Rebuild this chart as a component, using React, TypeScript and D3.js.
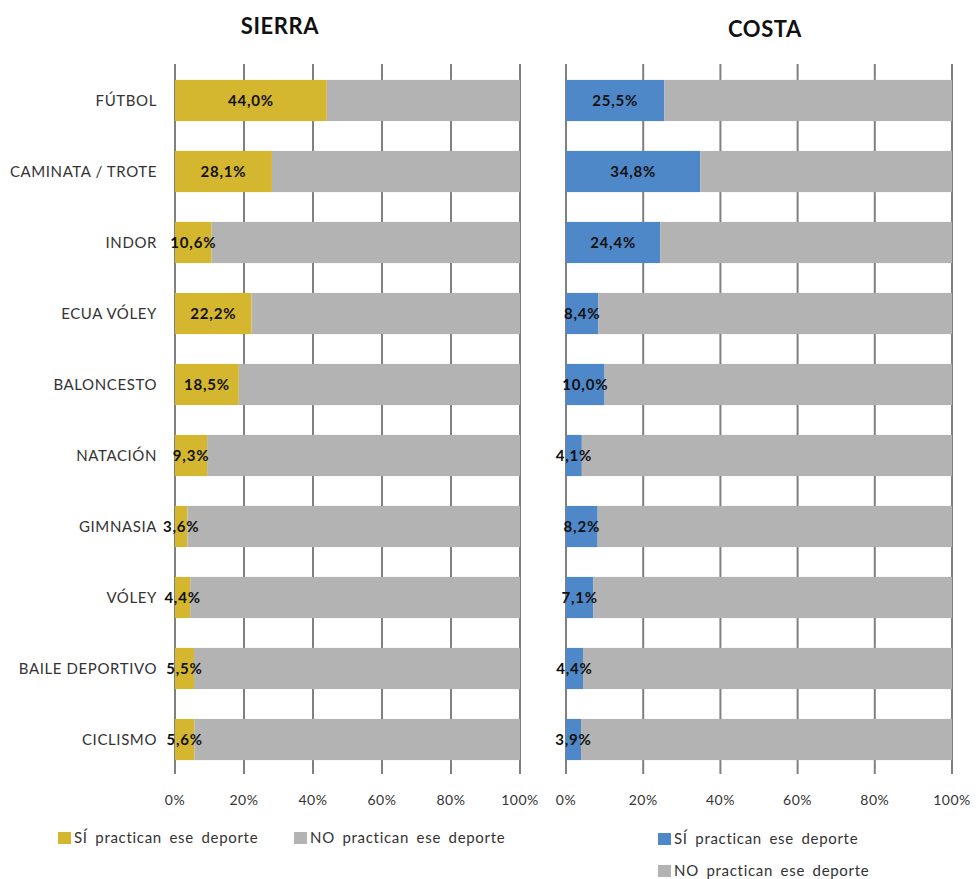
import React from "react";
import * as d3 from "d3";

const categories = [
  "FÚTBOL",
  "CAMINATA / TROTE",
  "INDOR",
  "ECUA VÓLEY",
  "BALONCESTO",
  "NATACIÓN",
  "GIMNASIA",
  "VÓLEY",
  "BAILE DEPORTIVO",
  "CICLISMO",
];
const sierraValues = [44.0, 28.1, 10.6, 22.2, 18.5, 9.3, 3.6, 4.4, 5.5, 5.6];
const costaValues = [25.5, 34.8, 24.4, 8.4, 10.0, 4.1, 8.2, 7.1, 4.4, 3.9];
const ticks = [0, 20, 40, 60, 80, 100];

const W = 977;
const H = 879;
const FONT = "Lato, 'Open Sans', sans-serif";
const GRAY = "#b3b3b3";
const GRID = "#808080";
const TEXT = "#333";

const fmt = (v: number) => v.toFixed(1).replace(".", ",") + "%";

const y = d3.scaleBand().domain(categories).range([65, 775]).paddingInner(0.42).paddingOuter(0.21);

function Panel({ title, values, color, x0, x1, titleX, titleY, showCats }) {
  const x = d3.scaleLinear().domain([0, 100]).range([x0, x1]);
  return (
    <g>
      <text x={titleX} y={titleY} textAnchor="middle" fontSize={22} fontWeight="bold" fill="#111" letterSpacing={0.6}>
        {title}
      </text>
      {ticks.map((t) => (
        <g key={t}>
          <line x1={x(t)} x2={x(t)} y1={64} y2={774} stroke={GRID} strokeWidth={2} />
          <text x={x(t)} y={805} textAnchor="middle" fontSize={14} fill={TEXT} letterSpacing={0.5}>
            {t}%
          </text>
        </g>
      ))}
      {categories.map((c, i) => {
        const v = values[i];
        const yy = y(c) as number;
        return (
          <g key={c}>
            <rect x={x(0)} y={yy} width={x(v) - x(0)} height={y.bandwidth()} fill={color} />
            <rect x={x(v)} y={yy} width={x(100) - x(v)} height={y.bandwidth()} fill={GRAY} />
            <text
              x={(x(0) + x(v)) / 2}
              y={yy + y.bandwidth() / 2}
              dy="0.35em"
              textAnchor="middle"
              fontSize={15}
              fontWeight="bold"
              letterSpacing={0.8}
              fill="#111"
            >
              {fmt(v)}
            </text>
            {showCats && (
              <text
                x={x0 - 18}
                y={yy + y.bandwidth() / 2}
                dy="0.35em"
                textAnchor="end"
                fontSize={15}
                letterSpacing={0.6}
                fill={TEXT}
              >
                {c}
              </text>
            )}
          </g>
        );
      })}
    </g>
  );
}

function LegendItem({ x, y: ly, color, label }) {
  return (
    <g>
      <rect x={x} y={ly} width={13} height={12} fill={color} />
      <text x={x + 16} y={ly + 6} dy="0.35em" fontSize={15} letterSpacing={0.7} wordSpacing={3} fill={TEXT}>
        {label}
      </text>
    </g>
  );
}

export default function App() {
  const gold = "#d4b72f";
  const blue = "#4f88c8";
  return (
    <svg
      width={W}
      height={H}
      style={{ position: "absolute", left: 0, top: 0, background: "#fff" }}
      fontFamily={FONT}
    >
      <Panel title="SIERRA" values={sierraValues} color={gold} x0={175} x1={520} titleX={280} titleY={34} showCats />
      <Panel title="COSTA" values={costaValues} color={blue} x0={566} x1={952} titleX={765} titleY={37} showCats={false} />
      <LegendItem x={58} y={832} color={gold} label="SÍ practican ese deporte" />
      <LegendItem x={294} y={832} color={GRAY} label="NO practican ese deporte" />
      <LegendItem x={658} y={833} color={blue} label="SÍ practican ese deporte" />
      <LegendItem x={658} y={865} color={GRAY} label="NO practican ese deporte" />
    </svg>
  );
}
